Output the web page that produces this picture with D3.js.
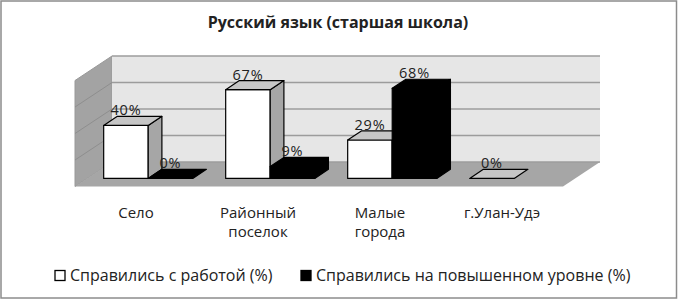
<!DOCTYPE html>
<html lang="ru">
<head>
<meta charset="UTF-8">
<script src="https://d3js.org/d3.v7.min.js"></script>
<title>Русский язык</title>
<style>
  body { margin: 0; background: #fff; }
  text { font-family: "Open Sans", sans-serif; fill: #222; }
</style>
</head>
<body>
<svg width="678" height="300"></svg>
<script>
  // данные
  const categories = ["Село", "Районный поселок", "Малые города", "г.Улан-Удэ"];
  const seriesNames = ["Справились с работой (%)", "Справились на повышенном уровне (%)"];
  const doneValues = [40, 67, 29, 0];
  const highValues = [0, 9, 68, null];
  const yTicks = [0, 20, 40, 60, 80];

  const svg = d3.select("svg");
  const width = +svg.attr("width");
  const height = +svg.attr("height");

  // рамка
  svg.append("rect")
    .attr("x", 1).attr("y", 1)
    .attr("width", width - 2.5).attr("height", height - 3)
    .attr("fill", "#fff")
    .attr("stroke", "#8c8c8c")
    .attr("stroke-width", 1.5);

  // геометрия 3D
  const floorY = 186.5;
  const DX = 37, DY = 24.5;     // вектор глубины
  const zFront = 0.33, zBack = 0.7;

  const xScale = d3.scaleBand()
    .domain(categories)
    .range([75, 563])
    .paddingInner(0.27)
    .paddingOuter(0.135);

  const xSub = d3.scaleBand()
    .domain([0, 1])
    .range([0, xScale.bandwidth()]);

  const yScale = d3.scaleLinear()
    .domain([0, 80])
    .range([0, 106]);

  const proj = (x, v, z) => [x + z * DX, floorY - z * DY - yScale(v)];
  const poly = pts => "M" + pts.map(p => p.join(",")).join("L") + "Z";

  const x0 = xScale.range()[0], x1 = xScale.range()[1];
  const vMax = yScale.domain()[1];

  const chart = svg.append("g");

  // стенки
  chart.append("path")
    .attr("d", poly([proj(x0, 0, 0), proj(x0, vMax, 0), proj(x0, vMax, 1), proj(x0, 0, 1)]))
    .attr("fill", "#a3a3a3")
    .attr("stroke", "#999");

  chart.append("path")
    .attr("d", poly([proj(x0, 0, 1), proj(x0, vMax, 1), proj(x1, vMax, 1), proj(x1, 0, 1)]))
    .attr("fill", "#e6e6e6")
    .attr("stroke", "none");

  // пол
  chart.append("path")
    .attr("d", poly([proj(x0, 0, 0), proj(x1, 0, 0), proj(x1, 0, 1), proj(x0, 0, 1)]))
    .attr("fill", "#a6a6a6")
    .attr("stroke", "none");

  // линии сетки
  chart.append("g")
    .selectAll("line")
    .data(yTicks)
    .join("line")
    .attr("x1", d => proj(x0, d, 1)[0])
    .attr("y1", d => proj(x0, d, 1)[1])
    .attr("x2", d => proj(x1, d, 1)[0])
    .attr("y2", d => proj(x1, d, 1)[1])
    .attr("stroke", "#9c9c9c")
    .attr("stroke-width", 1.6);

  chart.append("g")
    .selectAll("line")
    .data(yTicks.slice(1, -1))
    .join("line")
    .attr("x1", d => proj(x0, d, 0)[0])
    .attr("y1", d => proj(x0, d, 0)[1])
    .attr("x2", d => proj(x0, d, 1)[0])
    .attr("y2", d => proj(x0, d, 1)[1])
    .attr("stroke", "#8e8e8e")
    .attr("stroke-width", 1);

  // столбцы
  const styles = [
    { front: "#ffffff", side: "#a6a6a6", top: "#c6c6c6" },
    { front: "#000000", side: "#000000", top: "#000000" }
  ];

  const bars = [];
  categories.forEach((c, i) => {
    [doneValues[i], highValues[i]].forEach((v, j) => {
      if (v === null) return;
      bars.push({ cat: c, s: j, v: v });
    });
  });

  const barG = chart.append("g");
  bars.forEach(b => {
    const a = xScale(b.cat) + xSub(b.s);
    const e = a + xSub.bandwidth();
    const st = styles[b.s];
    const g = barG.append("g");
    if (b.v > 0) {
      g.append("path")
        .attr("d", poly([proj(a, 0, zFront), proj(e, 0, zFront), proj(e, b.v, zFront), proj(a, b.v, zFront)]))
        .attr("fill", st.front);
      g.append("path")
        .attr("d", poly([proj(e, 0, zFront), proj(e, 0, zBack), proj(e, b.v, zBack), proj(e, b.v, zFront)]))
        .attr("fill", st.side);
    }
    g.append("path")
      .attr("d", poly([proj(a, b.v, zFront), proj(e, b.v, zFront), proj(e, b.v, zBack), proj(a, b.v, zBack)]))
      .attr("fill", st.top);
    g.selectAll("path")
      .attr("stroke", "#000")
      .attr("stroke-width", 1.2)
      .attr("stroke-linejoin", "round");
  });

  // подписи значений
  chart.append("g")
    .selectAll("text")
    .data(bars)
    .join("text")
    .attr("x", d => xScale(d.cat) + xSub(d.s) + xSub.bandwidth() / 2 + zFront * DX)
    .attr("y", d => proj(0, d.v, zBack)[1] - 1)
    .attr("text-anchor", "middle")
    .style("font-size", "14.5px")
    .style("letter-spacing", "0.8px")
    .text(d => d.v + "%");

  // подписи категорий
  const catLabels = svg.append("g")
    .selectAll("text")
    .data(categories)
    .join("text")
    .attr("x", d => xScale(d) - xScale.step() * xScale.paddingInner() / 2 + xScale.step() / 2)
    .attr("y", 218)
    .attr("text-anchor", "middle")
    .style("font-size", "15px");

  catLabels.selectAll("tspan")
    .data(d => d.split(" "))
    .join("tspan")
    .attr("x", function () { return d3.select(this.parentNode).attr("x"); })
    .attr("dy", (d, i) => i === 0 ? 0 : 18.5)
    .text(d => d);

  // легенда
  const legendX = [55, 301];
  const legend = svg.append("g")
    .selectAll("g")
    .data(seriesNames)
    .join("g")
    .attr("transform", (d, i) => "translate(" + legendX[i] + ",270.5)");

  legend.append("rect")
    .attr("width", 10)
    .attr("height", 10)
    .attr("fill", (d, i) => styles[i].front)
    .attr("stroke", "#000")
    .attr("stroke-width", 1.3);

  legend.append("text")
    .attr("x", 15)
    .attr("y", 10)
    .style("font-size", "16px")
    .text(d => d);

  // заголовок
  svg.append("text")
    .attr("x", 338)
    .attr("y", 28)
    .attr("text-anchor", "middle")
    .style("font-size", "16px")
    .style("font-weight", "bold")
    .text("Русский язык (старшая школа)");
</script>
</body>
</html>
